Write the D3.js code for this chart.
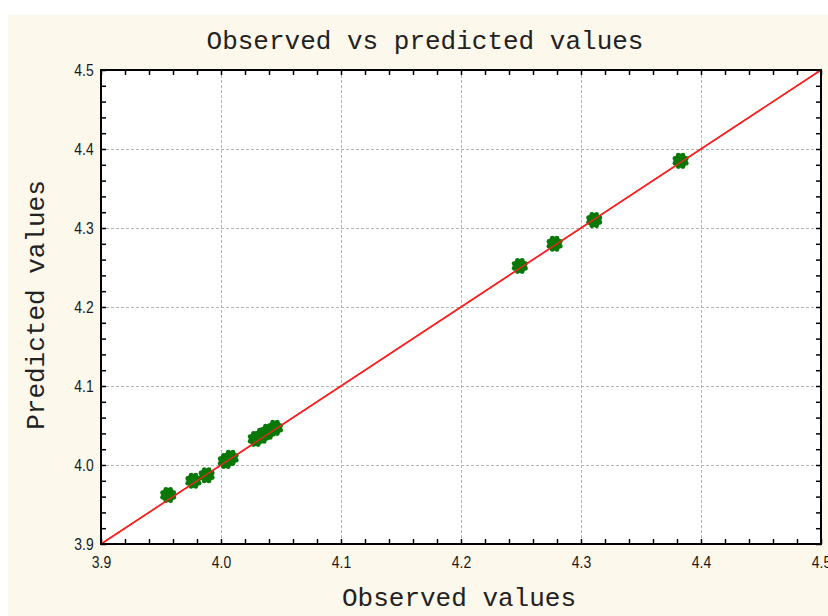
<!DOCTYPE html>
<html>
<head>
<meta charset="utf-8">
<script src="https://cdn.jsdelivr.net/npm/d3@7"></script>
<style>
  html, body { margin: 0; padding: 0; background: #ffffff; }
  svg { display: block; }
</style>
</head>
<body>
<svg id="chart" width="828" height="616"></svg>
<script>
// ---- data ----
const observed  = [3.956, 3.977, 3.988, 4.004, 4.008, 4.029, 4.034, 4.039, 4.045, 4.249, 4.278, 4.311, 4.383];
const predicted = [3.962, 3.980, 3.987, 4.005, 4.009, 4.033, 4.037, 4.042, 4.047, 4.252, 4.280, 4.310, 4.385];
const tickValues = [3.9, 4.0, 4.1, 4.2, 4.3, 4.4, 4.5];
const tickLabels = ["3.9", "4.0", "4.1", "4.2", "4.3", "4.4", "4.5"];
const fitLine = [3.9, 4.5];
const titleText = "Observed vs predicted values";
const xLabel = "Observed values";
const yLabel = "Predicted values";

// ---- layout ----
const W = 828, H = 616;
const L = 101, R = 821, T = 70, B = 544;
const svg = d3.select("#chart");

svg.append("rect").attr("x", 8).attr("y", 15).attr("width", W - 8).attr("height", H - 15)
   .attr("fill", "#fdf8ec");

const x = d3.scaleLinear().domain([3.9, 4.5]).range([L, R]);
const y = d3.scaleLinear().domain([3.9, 4.5]).range([B, T]);

svg.append("rect").attr("x", L).attr("y", T).attr("width", R - L).attr("height", B - T)
   .attr("fill", "#ffffff");

// gridlines
const grid = svg.append("g").attr("stroke", "#b4b4b4").attr("stroke-width", 1)
   .attr("stroke-dasharray", "3,2");
tickValues.slice(1, -1).forEach(v => {
  grid.append("line").attr("x1", Math.round(x(v)) + 0.5).attr("x2", Math.round(x(v)) + 0.5)
      .attr("y1", T).attr("y2", B);
  grid.append("line").attr("y1", Math.round(y(v)) + 0.5).attr("y2", Math.round(y(v)) + 0.5)
      .attr("x1", L).attr("x2", R);
});

// minor ticks (every 0.02) pointing inward on all four sides
const minor = d3.range(0, 31).map(i => 3.9 + i * 0.02);
const fmt = v => tickLabels[tickValues.findIndex(t => Math.abs(t - v) < 1e-9)] || "";
const axB = d3.axisBottom(x).tickValues(minor).tickSizeInner(-5).tickSizeOuter(0).tickFormat("");
const axT = d3.axisTop(x).tickValues(minor).tickSizeInner(-5).tickSizeOuter(0).tickFormat("");
const axL = d3.axisLeft(y).tickValues(minor).tickSizeInner(-5).tickSizeOuter(0).tickFormat("");
const axR = d3.axisRight(y).tickValues(minor).tickSizeInner(-5).tickSizeOuter(0).tickFormat("");
[[axB, `translate(0,${B})`], [axT, `translate(0,${T})`], [axL, `translate(${L},0)`], [axR, `translate(${R},0)`]]
  .forEach(([ax, tr]) => {
    const g = svg.append("g").attr("transform", tr).call(ax);
    g.select(".domain").remove();
    g.selectAll("line").attr("stroke", "#000").attr("stroke-width", 1.5);
  });

// tick labels via axes (narrow look)
const labFont = "'Liberation Sans Narrow', 'Arial Narrow', 'Liberation Sans', sans-serif";
const xl = svg.append("g").attr("transform", `translate(0,${B})`)
  .call(d3.axisBottom(x).tickValues(tickValues).tickFormat(fmt).tickSize(0).tickPadding(12));
xl.select(".domain").remove();
xl.selectAll("text").attr("font-family", labFont).attr("font-size", 17).attr("fill", "#1a1a1a")
  .attr("transform", "scale(0.82,1)");
const yl = svg.append("g").attr("transform", `translate(${L},0)`)
  .call(d3.axisLeft(y).tickValues(tickValues).tickFormat(fmt).tickSize(0).tickPadding(9))
yl.select(".domain").remove();
yl.selectAll("text").attr("font-family", labFont).attr("font-size", 17).attr("fill", "#1a1a1a")
  .attr("transform", "scale(0.82,1)");

// fit line
svg.append("line")
  .attr("x1", x(fitLine[0])).attr("y1", y(fitLine[0]))
  .attr("x2", x(fitLine[1])).attr("y2", y(fitLine[1]))
  .attr("stroke", "#ff1a1a").attr("stroke-width", 1.6);

// points: rounded scalloped blobs
const pts = svg.append("g").attr("fill", "#087808");
const bumps = d3.range(8).map(k => k * Math.PI / 4 + Math.PI / 8);
observed.forEach((o, i) => {
  const cx = x(o), cy = y(predicted[i]);
  pts.append("circle").attr("cx", cx).attr("cy", cy).attr("r", 7);
  bumps.forEach(a => {
    pts.append("circle").attr("cx", cx + 6.1 * Math.cos(a)).attr("cy", cy + 6.1 * Math.sin(a)).attr("r", 2.4);
  });
});
// line drawn again through points like reference
svg.append("line")
  .attr("x1", x(fitLine[0])).attr("y1", y(fitLine[0]))
  .attr("x2", x(fitLine[1])).attr("y2", y(fitLine[1]))
  .attr("stroke", "#ff2020").attr("stroke-width", 1.3);

// frame
svg.append("rect").attr("x", L).attr("y", T).attr("width", R - L).attr("height", B - T)
   .attr("fill", "none").attr("stroke", "#000").attr("stroke-width", 2);

// titles
const mono = "'Liberation Mono', 'Courier New', monospace";
svg.append("text").attr("x", 425).attr("y", 49).attr("text-anchor", "middle")
   .attr("font-family", mono).attr("font-size", 26).attr("fill", "#222").text(titleText);
svg.append("text").attr("x", 459).attr("y", 606).attr("text-anchor", "middle")
   .attr("font-family", mono).attr("font-size", 26).attr("fill", "#222").text(xLabel);
svg.append("text").attr("transform", "translate(44,305) rotate(-90)").attr("text-anchor", "middle")
   .attr("font-family", mono).attr("font-size", 26).attr("fill", "#222").text(yLabel);
</script>
</body>
</html>
